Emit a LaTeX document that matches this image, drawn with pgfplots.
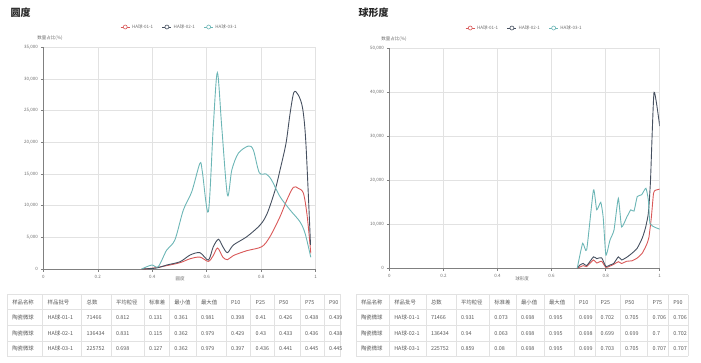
\documentclass[border=0pt]{standalone}
\usepackage{fontspec}
\setmainfont{Noto Sans CJK SC}
\usepackage{pgfplots}
\pgfplotsset{compat=1.18}
\definecolor{cred}{RGB}{217,88,88}
\definecolor{cdark}{RGB}{70,80,96}
\definecolor{cteal}{RGB}{108,182,182}
\definecolor{tgray}{RGB}{110,110,110}
\definecolor{gline}{RGB}{226,226,226}
\pgfplotsset{
 mystyle/.style={
  scale only axis,
  xmin=0,xmax=1,ymin=0,
  axis x line*=bottom, axis y line*=left,
  axis line style={draw=black!50, line width=0.6pt},
  grid=major, major grid style={draw=gline, line width=0.5pt},
  tick style={draw=black!50, line width=0.5pt},
  tick align=outside, major tick length=2.5pt,
  xtick={0,0.2,0.4,0.6,0.8,1},
  tick label style={font=\fontsize{4.5}{5}\selectfont, text=tgray},
  yticklabel style={xshift=0.5pt},
  /pgf/number format/assume math mode=true,
  /pgf/number format/1000 sep={,},
  scaled y ticks=false,
  every axis plot/.append style={line width=0.9pt, no markers},
  legend columns=3,
  legend style={draw=none, fill=none, font=\fontsize{4.5}{5}\selectfont, text=tgray,
    at={(0.5,1)}, anchor=center, yshift=20.3pt,
    /tikz/every even column/.style={column sep=7pt}},
  legend image code/.code={\draw[line width=0.6pt] (0pt,0pt) -- (9pt,0pt);
     \draw[line width=0.6pt, fill=white] (4.5pt,0pt) circle (2pt);},
 }
}
\begin{document}
\begin{tikzpicture}
\path[use as bounding box] (0,0) rectangle (701pt,-362pt);
% titles
\node[anchor=west, font=\bfseries\fontsize{10}{12}\selectfont, text=black!85] at (7pt,-13pt) {圆度};
\node[anchor=west, font=\bfseries\fontsize{10}{12}\selectfont, text=black!85] at (355pt,-13pt) {球形度};
\node[font=\fontsize{4.5}{5}\selectfont, text=tgray] at (50pt,-38.5pt) {数量占比(\%)};
\node[font=\fontsize{4.5}{5}\selectfont, text=tgray] at (394pt,-39pt) {数量占比(\%)};
\node[font=\fontsize{4.5}{5}\selectfont, text=tgray] at (180pt,-279pt) {圆度};
\node[font=\fontsize{4.5}{5}\selectfont, text=tgray] at (522pt,-279pt) {球形度};

\begin{axis}[mystyle, at={(43.3pt,-269pt)}, anchor=south west,
  width=272.4pt, height=221.7pt, ymax=35000, ytick={0,5000,...,35000}]
\addplot[cred, smooth] coordinates {
(0.361,0) (0.40,120) (0.453,530) (0.502,1000) (0.539,1620) (0.575,1880) (0.606,1200)
(0.624,2130) (0.64,3310) (0.659,1880) (0.676,1470) (0.698,2130) (0.747,2890)
(0.802,3520) (0.832,5100) (0.869,8260) (0.894,10890) (0.918,12900) (0.936,12740)
(0.955,11950) (0.969,8260) (0.982,2470)};
\addlegendentry{HA球-01-1}
\addplot[cdark, smooth] coordinates {
(0.361,0) (0.416,160) (0.453,630) (0.502,1150) (0.539,2210) (0.575,2580) (0.606,1420)
(0.624,3520) (0.643,4690) (0.659,3520) (0.676,2580) (0.698,3790) (0.747,5100)
(0.796,6950) (0.822,8790) (0.851,12470) (0.869,15630) (0.891,19850) (0.906,24580)
(0.92,27900) (0.936,27470) (0.952,25370) (0.964,19850) (0.981,3800)};
\addlegendentry{HA球-02-1}
\addplot[cteal, smooth] coordinates {
(0.361,0) (0.398,630) (0.422,370) (0.453,3000) (0.483,4580) (0.514,9300) (0.545,12200)
(0.575,16690) (0.584,15300) (0.606,9050) (0.624,22470) (0.639,31000) (0.655,22470)
(0.676,11680) (0.692,15630) (0.716,18270) (0.753,19420) (0.771,18790) (0.793,15200)
(0.818,15000) (0.838,14050) (0.869,11420) (0.906,9315) (0.942,7470) (0.961,5630)
(0.982,1840)};
\addlegendentry{HA球-03-1}
\end{axis}

\begin{axis}[mystyle, at={(389.3pt,-268.3pt)}, anchor=south west,
  width=270.4pt, height=220pt, ymax=50000, ytick={0,10000,...,50000}]
\addplot[cred, smooth, tension=0.3] coordinates {
(0.695,0) (0.717,600) (0.73,400) (0.755,1900) (0.767,1200) (0.785,1600) (0.801,200)
(0.816,500) (0.83,900) (0.847,1500) (0.859,1100) (0.878,1600) (0.897,1700) (0.916,2300)
(0.935,3400) (0.951,5300) (0.96,7000) (0.969,11500) (0.977,17000) (0.983,17700) (1.0,18000)};
\addlegendentry{HA球-01-1}
\addplot[cdark, smooth, tension=0.3] coordinates {
(0.695,0) (0.705,750) (0.717,1100) (0.73,600) (0.755,2600) (0.767,2200) (0.785,2400)
(0.801,400) (0.816,750) (0.83,1100) (0.847,2600) (0.859,1900) (0.878,2500) (0.897,3400)
(0.916,4500) (0.935,6800) (0.947,9100) (0.958,12500) (0.966,20000) (0.979,40000) (1.0,32300)};
\addlegendentry{HA球-02-1}
\addplot[cteal, smooth, tension=0.3] coordinates {
(0.695,0) (0.715,5680) (0.73,4200) (0.755,17800) (0.767,13300) (0.782,15000) (0.791,11600)
(0.801,3000) (0.816,6400) (0.831,8700) (0.847,15900) (0.859,9400) (0.878,11600)
(0.893,13300) (0.905,13000) (0.917,16300) (0.933,16700) (0.949,18200) (0.958,15500)
(0.964,10200) (0.983,9300) (1.0,8900)};
\addlegendentry{HA球-03-1}
\end{axis}

% tables
\begin{scope}[x=1pt,y=-1pt]
 \foreach \off/\cols/\last in {0/{7.3,42.7,81.7,111,144,169.3,196,226,250.7,274,300,324}/340.7,
                               1/{356,389.3,426,456,489.3,516,544,574,595.7,620,647.7,668.3}/688.3} {
   \foreach \c in \cols { \draw[gline, line width=0.5pt] (\c,294.7) -- (\c,356.3); }
   \draw[gline, line width=0.5pt] (\last,294.7) -- (\last,356.3);
 }
 \foreach \y in {294.7,309.7,325.7,341.3,356.3} {
   \draw[gline, line width=0.5pt] (7.3,\y) -- (340.7,\y);
   \draw[gline, line width=0.5pt] (356,\y) -- (688.3,\y);
 }
 \tikzset{tc/.style={anchor=west, font=\fontsize{5.4}{6}\selectfont, text=black!65, inner sep=0pt}}
 % left table
 \foreach \c/\t in {7.3/样品名称,42.7/样品批号,81.7/总数,111/平均粒径,144/标准差,169.3/最小值,196/最大值,226/P10,250.7/P25,274/P50,300/P75,324/P90}
   {\node[tc] at (\c+4.8,302.2) {\t};}
 \foreach \c/\t in {7.3/陶瓷微球,42.7/HA球-01-1,81.7/71466,111/0.812,144/0.131,169.3/0.361,196/0.981,226/0.398,250.7/0.41,274/0.426,300/0.438,324/0.439}
   {\node[tc] at (\c+4.8,317.7) {\t};}
 \foreach \c/\t in {7.3/陶瓷微球,42.7/HA球-02-1,81.7/136434,111/0.831,144/0.115,169.3/0.362,196/0.979,226/0.429,250.7/0.43,274/0.433,300/0.436,324/0.438}
   {\node[tc] at (\c+4.8,333.5) {\t};}
 \foreach \c/\t in {7.3/陶瓷微球,42.7/HA球-03-1,81.7/225752,111/0.698,144/0.127,169.3/0.362,196/0.979,226/0.397,250.7/0.436,274/0.441,300/0.445,324/0.445}
   {\node[tc] at (\c+4.8,348.8) {\t};}
 % right table
 \foreach \c/\t in {356/样品名称,389.3/样品批号,426/总数,456/平均粒径,489.3/标准差,516/最小值,544/最大值,574/P10,595.7/P25,620/P50,647.7/P75,668.3/P90}
   {\node[tc] at (\c+4.8,302.2) {\t};}
 \foreach \c/\t in {356/陶瓷微球,389.3/HA球-01-1,426/71466,456/0.931,489.3/0.073,516/0.698,544/0.995,574/0.699,595.7/0.702,620/0.705,647.7/0.706,668.3/0.706}
   {\node[tc] at (\c+4.8,317.7) {\t};}
 \foreach \c/\t in {356/陶瓷微球,389.3/HA球-02-1,426/136434,456/0.94,489.3/0.063,516/0.698,544/0.995,574/0.698,595.7/0.699,620/0.699,647.7/0.7,668.3/0.702}
   {\node[tc] at (\c+4.8,333.5) {\t};}
 \foreach \c/\t in {356/陶瓷微球,389.3/HA球-03-1,426/225752,456/0.859,489.3/0.08,516/0.698,544/0.995,574/0.699,595.7/0.703,620/0.705,647.7/0.707,668.3/0.707}
   {\node[tc] at (\c+4.8,348.8) {\t};}
\end{scope}
\end{tikzpicture}
\end{document}
